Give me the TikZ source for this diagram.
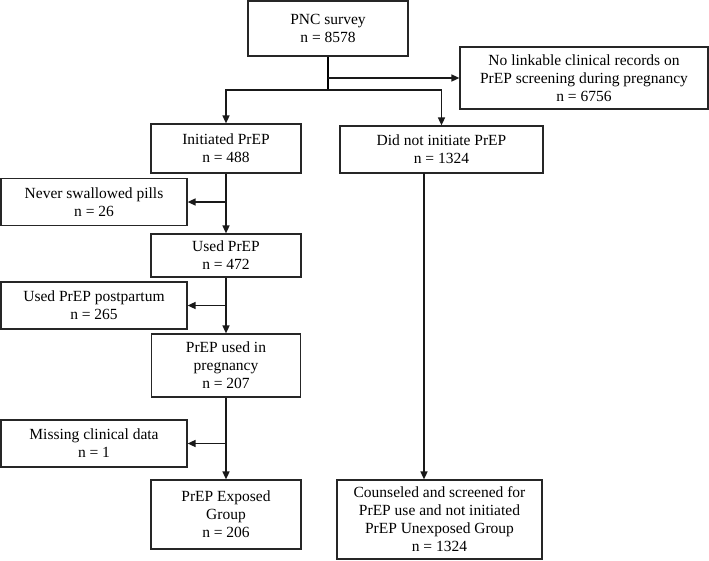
\documentclass[tikz,border=0pt]{standalone}
\usepackage{fontspec}
\setmainfont{Liberation Serif}
\usetikzlibrary{arrows.meta}

\begin{document}
\begin{tikzpicture}[x=1pt,y=-1pt,line width=1.5pt,-]
    \tikzstyle{box}=[rectangle,draw=black!85,line width=1.2pt,align=center,inner sep=0pt,
        font=\fontsize{15.5}{18}\selectfont]
    \tikzstyle{arr}=[-{Triangle[length=8pt,width=7pt]},draw=black!90]
    \useasboundingbox (0,0) rectangle (709,560);

    % main column
    \node[box,minimum width=160pt,minimum height=55pt] (pnc) at (328,28.5) {PNC survey\\ n = 8578};
    \node[box,minimum width=248pt,minimum height=62pt] (nolink) at (584,78) {No linkable clinical records on\\ PrEP screening during pregnancy\\ n = 6756};
    \node[box,minimum width=150pt,minimum height=49pt] (init) at (226,148.5) {Initiated PrEP\\ n = 488};
    \node[box,minimum width=203pt,minimum height=47pt] (noinit) at (441.5,149.5) {Did not initiate PrEP\\ n = 1324};
    \node[box,minimum width=150pt,minimum height=43pt] (used) at (226,255.5) {Used PrEP\\ n = 472};
    \node[box,minimum width=149pt,minimum height=63pt] (preg) at (226,365.5) {PrEP used in\\ pregnancy\\ n = 207};
    \node[box,minimum width=150pt,minimum height=69pt] (exposed) at (226,514.5) {PrEP Exposed\\ Group\\ n = 206};
    \node[box,minimum width=205pt,minimum height=79pt] (counsel) at (439.5,519.5) {Counseled and screened for\\ PrEP use and not initiated\\ PrEP Unexposed Group\\ n = 1324};

    % excluded boxes on the left
    \foreach \name/\y/\txt in {never/202/Never swallowed pills\\ n = 26,
                               postp/305.5/Used PrEP postpartum\\ n = 265,
                               missing/443.5/Missing clinical data\\ n = 1}
        \node[box,minimum width=186pt,minimum height=47pt] (\name) at (94,\y) {\txt};

    \coordinate (split) at (pnc.south |- 0,90);
    \coordinate (down) at (424,173);

    \draw (pnc.south) -- (split);
    \draw[arr] (pnc.south |- nolink.west) -- (nolink.west);
    \draw[arr] (split) -| (init.north);
    \draw[arr] (split) -| (noinit.north);
    \draw[arr] (down) -- (down |- counsel.north);

    \foreach \from/\to/\side in {init/used/never, used/preg/postp, preg/exposed/missing}
        {
        \draw[arr] (\from.south) -- (\to.north);
        \draw[arr] (\from.south |- \side.east) -- (\side.east);
        }
\end{tikzpicture}
\end{document}
